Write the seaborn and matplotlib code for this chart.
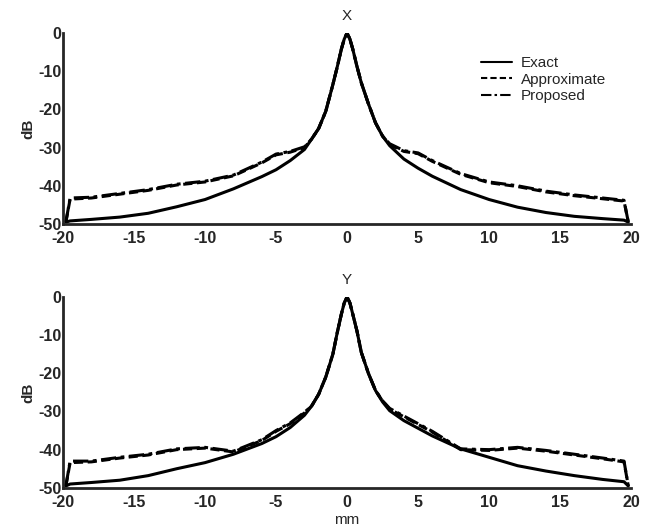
import numpy as np
import pandas as pd
import seaborn as sns
import matplotlib
matplotlib.use("Agg")
import matplotlib.pyplot as plt

# sample positions (mm)
x_mm = [-19.8, -19.5, -18, -16, -14, -12, -10, -8, -6, -5, -4, -3, -2.5, -2, -1.5, -1,
        -0.7, -0.4, -0.2, 0, 0.2, 0.4, 0.7, 1, 1.5, 2, 2.5, 3, 4, 5, 6, 8, 10, 12,
        14, 16, 18, 19.5, 19.8]

# X panel (dB)
x_exact = [-49.5, -49.2, -48.8, -48.2, -47.2, -45.5, -43.6, -40.8, -37.6, -35.8, -33.4, -30.5,
           -27.8, -25.0, -20.5, -13.5, -9.0, -4.2, -1.6, 0.0, -1.6, -4.2, -8.8, -13.0, -18.5,
           -23.5, -27.0, -29.5, -33.0, -35.4, -37.5, -41.0, -43.6, -45.6, -47.0, -48.0, -48.6,
           -49.0, -49.5]
x_approx = [-49.5, -43.5, -43.2, -42.2, -41.2, -39.8, -39.0, -37.4, -34.0, -31.9, -31.2, -30.0,
            -27.8, -25.0, -20.5, -13.5, -9.0, -4.2, -1.6, 0.0, -1.6, -4.2, -8.8, -13.0, -18.5,
            -23.5, -27.0, -29.2, -31.0, -31.6, -33.6, -37.0, -39.2, -40.2, -41.6, -42.6, -43.4,
            -44.0, -49.5]
x_proposed = [-49.5, -43.2, -43.0, -42.0, -41.0, -39.6, -38.8, -37.2, -33.8, -31.7, -31.0, -29.8,
              -27.8, -25.0, -20.5, -13.5, -9.0, -4.2, -1.6, 0.0, -1.6, -4.2, -8.8, -13.0, -18.5,
              -23.5, -27.0, -29.0, -30.8, -31.4, -33.4, -36.8, -39.0, -40.0, -41.4, -42.4, -43.2,
              -43.8, -49.5]

# Y panel (dB)
y_exact = [-49.5, -49.0, -48.6, -48.0, -46.8, -45.0, -43.4, -41.2, -38.4, -36.6, -34.2, -31.0,
           -28.6, -25.5, -21.0, -15.0, -9.5, -4.5, -1.6, 0.0, -1.6, -4.5, -9.0, -14.5, -20.0,
           -24.5, -27.5, -29.8, -32.4, -34.4, -36.4, -39.8, -42.0, -44.2, -45.6, -46.8, -47.8,
           -48.4, -49.5]
y_approx = [-49.5, -43.4, -43.2, -42.2, -41.4, -40.0, -39.6, -40.6, -37.6, -35.2, -33.2, -30.4,
            -28.6, -25.5, -21.0, -15.0, -9.5, -4.5, -1.6, 0.0, -1.6, -4.5, -9.0, -14.5, -20.0,
            -24.5, -27.3, -29.4, -31.4, -33.4, -35.4, -40.0, -40.2, -39.6, -40.4, -41.4, -42.4,
            -43.2, -49.5]
y_proposed = [-49.5, -43.0, -43.0, -42.0, -41.2, -39.8, -39.4, -40.4, -37.4, -35.0, -33.0, -30.2,
              -28.6, -25.5, -21.0, -15.0, -9.5, -4.5, -1.6, 0.0, -1.6, -4.5, -9.0, -14.5, -20.0,
              -24.5, -27.2, -29.2, -31.2, -33.2, -35.2, -39.8, -40.0, -39.4, -40.2, -41.2, -42.2,
              -43.0, -49.5]

methods = ["Exact", "Approximate", "Proposed"]


def long_frame(exact, approx, proposed):
    frames = []
    for name, vals in zip(methods, [exact, approx, proposed]):
        frames.append(pd.DataFrame({"mm": x_mm, "dB": vals, "method": name}))
    return pd.concat(frames, ignore_index=True)


def style_axes(ax, title):
    ax.set_xlim(-20, 20)
    ax.set_ylim(-50, 0)
    ax.set_xticks([-20, -15, -10, -5, 0, 5, 10, 15, 20])
    ax.set_yticks([0, -10, -20, -30, -40, -50])
    ax.set_title(title, fontsize=11, pad=9)
    ax.set_ylabel("dB", fontsize=11, fontweight="bold", labelpad=2)
    for spine in ["top", "right"]:
        ax.spines[spine].set_visible(False)
    for spine in ["left", "bottom"]:
        ax.spines[spine].set_linewidth(2.0)
    ax.tick_params(axis="both", direction="in", length=4, width=1.5, labelsize=11.5)
    ax.tick_params(axis="x", pad=5)
    ax.tick_params(axis="y", pad=1)
    for lab in ax.get_xticklabels() + ax.get_yticklabels():
        lab.set_fontweight("bold")


sns.set_style("white")
plt.rcParams["font.family"] = ["Liberation Sans", "DejaVu Sans"]
plt.rcParams["axes.unicode_minus"] = False

fig = plt.figure(figsize=(6.53, 5.32), dpi=100)
ax_top = fig.add_axes([0.0965, 0.579, 0.87, 0.359])
ax_bot = fig.add_axes([0.0965, 0.083, 0.87, 0.359])

dash_map = {"Exact": "", "Approximate": (3, 1.5), "Proposed": (5, 1.5, 1.2, 1.5)}

sns.lineplot(data=long_frame(x_exact, x_approx, x_proposed), x="mm", y="dB",
             style="method", dashes=dash_map, color="black", lw=2.2, ax=ax_top,
             sort=False, estimator=None)
sns.lineplot(data=long_frame(y_exact, y_approx, y_proposed), x="mm", y="dB",
             style="method", dashes=dash_map, color="black", lw=2.2, ax=ax_bot,
             sort=False, estimator=None, legend=False)

style_axes(ax_top, "X")
style_axes(ax_bot, "Y")
ax_top.set_xlabel("")
ax_bot.set_xlabel("mm", fontsize=11, labelpad=2)

leg = ax_top.legend(frameon=False, loc="upper right", bbox_to_anchor=(0.98, 0.95),
                    fontsize=11, handlelength=2.0, handletextpad=0.6, labelspacing=0.15)
for line in leg.get_lines():
    line.set_linewidth(1.5)

fig.savefig("out.png", dpi=100)
